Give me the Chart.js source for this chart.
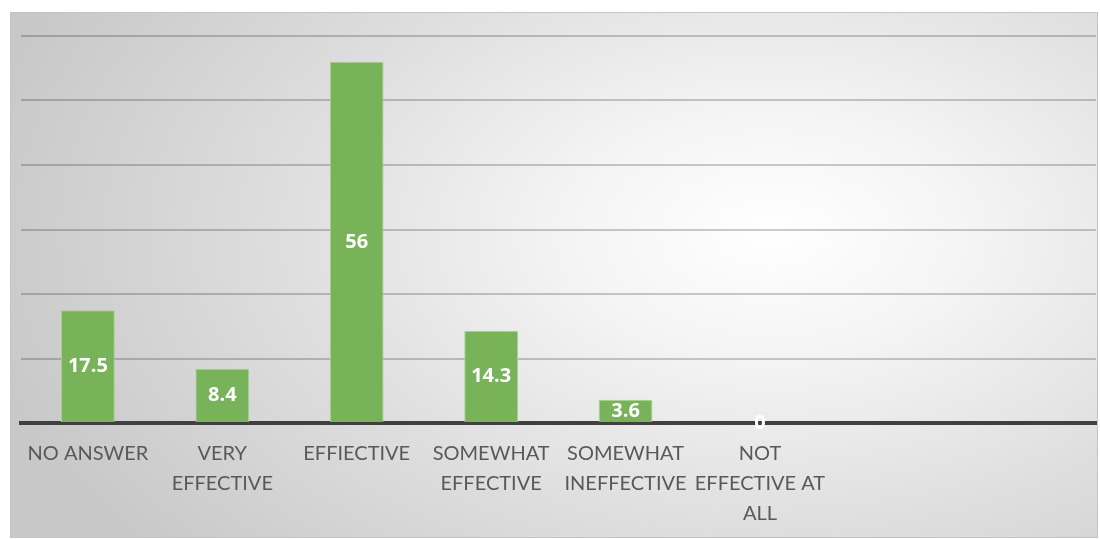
<!DOCTYPE html>
<html>
<head>
<meta charset="utf-8">
<script src="https://cdn.jsdelivr.net/npm/chart.js@4"></script>
<style>
  html, body { margin: 0; padding: 0; background: #ffffff; }
  #frame {
    position: absolute; left: 10px; top: 12px; width: 1086px; height: 524px;
    border: 1px solid #c4c4c4;
    background: radial-gradient(ellipse 75% 95% at 70% 42%, #ffffff 0%, #f4f4f4 25%, #dedede 60%, #c8c8c8 100%);
  }
  #grafico { display: block; }
</style>
</head>
<body>
<div id="frame"><canvas id="grafico" width="1086" height="524"></canvas></div>
<script>
// categorias e valores
const categorias = [
  'NO ANSWER',
  ['VERY', 'EFFECTIVE'],
  'EFFIECTIVE',
  ['SOMEWHAT', 'EFFECTIVE'],
  ['SOMEWHAT', 'INEFFECTIVE'],
  ['NOT', 'EFFECTIVE AT', 'ALL'],
  '',
  ''
];
const valores = [17.5, 8.4, 56, 14.3, 3.6, 0, null, null];
const yMin = 0;
const yMax = 60;
const yStep = 10;

// rótulos brancos no meio de cada barra
const rotulosPlugin = {
  id: 'rotulos',
  afterDatasetsDraw: function(chart) {
    const ctx = chart.ctx;
    const meta = chart.getDatasetMeta(0);
    ctx.save();
    ctx.fillStyle = '#ffffff';
    ctx.font = 'bold 20px "Open Sans", sans-serif';
    ctx.textAlign = 'center';
    ctx.textBaseline = 'middle';
    meta.data.forEach(function(bar, i) {
      const v = valores[i];
      if (v === null) return;
      const y = (bar.y + bar.base) / 2;
      ctx.fillText(String(v), bar.x, y);
    });
    ctx.restore();
  }
};

new Chart(document.getElementById('grafico'), {
  type: 'bar',
  data: {
    labels: categorias,
    datasets: [{
      data: valores,
      backgroundColor: '#78b35a',
      borderColor: '#a8d08d',
      borderWidth: 1,
      barPercentage: 0.4,
      categoryPercentage: 1
    }]
  },
  options: {
    responsive: false,
    animation: false,
    layout: { padding: { left: 8, right: 1, top: 23, bottom: 0 } },
    plugins: {
      legend: { display: false },
      tooltip: { enabled: false }
    },
    scales: {
      x: {
        grid: { display: false, drawTicks: false },
        border: { display: true, color: '#404040', width: 4 },
        ticks: {
          color: '#595959',
          font: { family: 'Lato', size: 20, lineHeight: 1.5 },
          padding: 16,
          maxRotation: 0,
          autoSkip: false
        },
        afterFit: function(scale) { scale.height = 114; }
      },
      y: {
        min: yMin,
        max: yMax,
        ticks: { display: false, stepSize: yStep },
        grid: { color: 'rgba(0,0,0,0.2)', lineWidth: 2, drawTicks: false },
        border: { display: false },
        afterFit: function(scale) { scale.width = 0; }
      }
    }
  },
  plugins: [rotulosPlugin]
});
</script>
</body>
</html>
